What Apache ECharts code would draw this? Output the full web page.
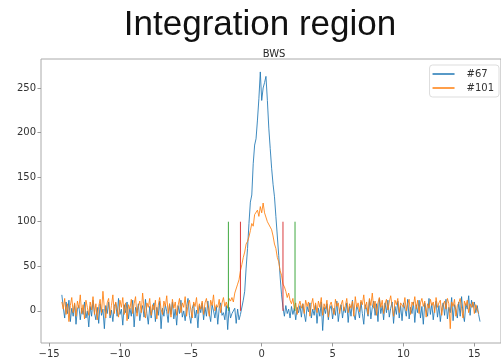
<!DOCTYPE html>
<html>
<head>
<meta charset="utf-8">
<script src="https://cdn.jsdelivr.net/npm/echarts@6/dist/echarts.min.js"></script>
<style>
  html, body { margin: 0; padding: 0; background: #fff; }
  #chart { width: 501px; height: 360px; }
</style>
</head>
<body>
<div id="chart"></div>
<script>
// Sampling grid of both profiles (position in mm)
const xStart = -14.1;
const xStep = 0.1;

// Profile #67, one row per 1 mm starting at -14.1
const bws67 = [
  18, 4, -8, 10, -3, 12, -12, 3, -6, 8,
  -15, 2, 6, -10, 3, -4, 10, -8, 0, -18,
  5, -6, 12, -2, -10, 4, -14, 8, -5, 2,
  -20, 6, -3, 10, -8, 1, -12, 5, 9, -6,
  14, -4, 2, -16, 7, -2, 10, -9, 3, -6,
  12, -18, 4, -2, 8, -11, 0, 6, -7, 13,
  -3, -15, 5, -8, 2, 9, -12, 4, -5, 11,
  -20, 3, -6, 7, -1, -13, 8, -4, 10, -9,
  2, -16, 6, -3, 12, -7, 0, -11, 5, 14,
  -5, -14, 3, 8, -8, 1, -19, 6, -2, 9,
  -10, 4, -6, 11, -3, -12, 7, 0, -8, 5,
  -15, 3, 9, -5, -2, -10, 6, -21, 4, -8,
  -3, -5, 3, -14, 2, -10, -4, -6, 12, 22,
  48, 70, 98, 122, 130, 165, 186, 193, 214, 238,
  268, 236, 250, 256, 263, 236, 205, 182, 160, 142,
  128, 106, 84, 62, 38, 18, 4, -6, 6, -3,
  2, -8, 5, -4, 3, -10, 4, -2, 6, -7,
  8, -3, -12, 5, -1, 9, -8, 2, -5, 7,
  -14, 3, -6, 10, -22, 4, -3, 8, -10, 2,
  6, -9, 3, -5, 11, -12, 1, 7, -8, 4,
  -2, 9, -13, 5, -6, 12, -4, -10, 6, 1,
  -8, 10, -3, -15, 7, 2, -6, 13, -9, 4,
  11, -5, 8, -12, 14, -3, 6, -10, 9, -2,
  12, -7, 3, 10, -14, 5, -4, 11, -8, 6,
  -11, 9, 2, -6, 13, -9, 4, -3, 10, -13,
  7, -2, 12, -8, 5, -15, 9, 1, -6, 14,
  -4, 8, -10, 3, 11, -7, 6, -12, 2, 9,
  -5, 13, -9, 4, -2, 15, -11, 7, 1, -8,
  10, -6, 16, -3, -12, 8, 2, 17, -5, 12,
  4, 10, -2, 6, -4, -12
];

// Profile #101, same grid
const bws101 = [
  10, 2, 14, -4, 8, -12, 6, 15, -2, 9,
  -6, 11, 3, 18, -3, 7, -9, 12, 4, -5,
  10, 1, 16, -4, 8, -10, 5, 13, -2, 22,
  3, -8, 9, 14, -5, 6, 18, -3, 10, 2,
  -7, 12, 4, 15, -4, 9, -11, 7, 2, 13,
  -3, 8, 16, -6, 5, 11, -2, 20, 3, -8,
  9, 4, 14, -5, 7, 1, 12, -9, 6, 15,
  2, -4, 11, 5, 17, -3, 8, -7, 13, 3,
  10, -5, 6, 14, -2, 9, 4, 16, -6, 7,
  12, 1, -8, 10, 5, 15, -3, 8, 2, 11,
  -4, 9, 14, 3, -6, 12, 6, 18, 0, 7,
  4, 13, -2, 9, 15, 5, 10, 3, 14, 11,
  15, 10, 20, 22, 30, 35, 45, 52, 60, 66,
  75, 78, 83, 90, 98, 95, 108, 110, 113, 106,
  117, 110, 121, 110, 112, 100, 98, 94, 91, 84,
  75, 70, 60, 55, 45, 40, 30, 27, 22, 15,
  20, 12, 8, 14, 2, 9, -4, 6, 11, 3,
  8, -3, 12, 5, 10, -6, 7, 14, 1, 9,
  -2, 11, 4, 15, -5, 8, 2, 12, -7, 6,
  10, 3, -4, 13, 5, 9, -3, 7, 12, 0,
  6, 14, -2, 8, 3, 11, -6, 16, 4, 9,
  -1, 12, 7, 18, 2, 10, -4, 14, 6, 20,
  3, 11, -5, 9, 15, 4, 12, -3, 8, 13,
  1, 10, 17, 5, -6, 12, 7, 14, -2, 9,
  11, 4, 15, 0, 8, 13, -4, 10, 6, 16,
  2, 12, -3, 9, 14, 5, 11, -7, 8, 3,
  13, 6, 10, -2, 15, 4, 9, 12, -5, 7,
  11, 2, 14, 8, -20, 10, 5, 13, -6, 6,
  9, 14, 3, -8, 11, 6, 12, -2, 8, 4,
  10, -3, 7, 2, -3
];

// Integration window limits and marker height
const innerLimits = [-1.5, 1.5];
const outerLimits = [-2.35, 2.35];
const markerHeight = [0, 100];

const xTicks = [-15, -10, -5, 0, 5, 10, 15];
const yTicks = [0, 50, 100, 150, 200, 250];

const seriesNames = ['#67', '#101'];
const seriesColors = ['#1f77b4', '#ff7f0e'];

function toPoints(values) {
  return values.map((v, i) => [+(xStart + i * xStep).toFixed(2), v]);
}

function fmtTick(v) {
  return v < 0 ? '\u2212' + Math.abs(v) : String(v);
}

const limitSeries = [];
[[innerLimits, '#d62728'], [outerLimits, '#2ca02c']].forEach(([limits, color]) => {
  limits.forEach(x => {
    limitSeries.push({
      type: 'line',
      data: markerHeight.map(y => [x, y]),
      showSymbol: false,
      silent: true,
      lineStyle: { color: color, width: 1, opacity: 0.9 },
      z: 3
    });
  });
});

const font = 'DejaVu Sans';

const chart = echarts.init(document.getElementById('chart'), null, { renderer: 'canvas' });
chart.setOption({
  animation: false,
  backgroundColor: '#ffffff',
  graphic: [
    {
      type: 'text',
      x: 260, y: 8,
      style: {
        text: 'Integration region',
        font: '35px "Liberation Sans", Arial, sans-serif',
        fill: '#111',
        align: 'center',
        verticalAlign: 'top'
      }
    },
    {
      type: 'text',
      x: 274, y: 49,
      style: {
        text: 'BWS',
        font: '10px "DejaVu Sans"',
        fill: '#262626',
        align: 'center',
        verticalAlign: 'top'
      }
    }
  ],
  grid: {
    left: 41, top: 59, width: 463, height: 284,
    show: true, borderColor: '#aaaaaa', borderWidth: 1,
    backgroundColor: 'transparent'
  },
  legend: {
    data: seriesNames,
    orient: 'vertical',
    right: 2, top: 65,
    icon: 'rect',
    itemWidth: 22, itemHeight: 1.5,
    itemGap: 4,
    padding: [4, 5, 4, 3],
    backgroundColor: 'rgba(255,255,255,0.85)',
    borderColor: '#dddddd', borderWidth: 1, borderRadius: 3,
    textStyle: { fontFamily: font, fontSize: 10, color: '#333', padding: [0, 0, 0, 7] }
  },
  xAxis: {
    type: 'value',
    min: -15.57, max: 16.88,
    axisLine: { show: false, onZero: false },
    splitLine: { show: false },
    axisTick: { show: true, length: 3.5, lineStyle: { color: '#999' }, customValues: xTicks },
    axisLabel: {
      customValues: xTicks, formatter: fmtTick,
      fontFamily: font, fontSize: 10, color: '#333', margin: 6
    }
  },
  yAxis: {
    type: 'value',
    min: -36, max: 282.5,
    axisLine: { show: false, onZero: false },
    splitLine: { show: false },
    axisTick: { show: true, length: 3.5, lineStyle: { color: '#999' }, customValues: yTicks },
    axisLabel: {
      customValues: yTicks, formatter: fmtTick,
      fontFamily: font, fontSize: 10, color: '#333', margin: 5
    }
  },
  series: [
    {
      name: seriesNames[0], type: 'line',
      data: toPoints(bws67),
      showSymbol: false,
      lineStyle: { color: seriesColors[0], width: 1, opacity: 0.85 },
      itemStyle: { color: seriesColors[0] },
      z: 2
    },
    {
      name: seriesNames[1], type: 'line',
      data: toPoints(bws101),
      showSymbol: false,
      lineStyle: { color: seriesColors[1], width: 1, opacity: 0.85 },
      itemStyle: { color: seriesColors[1] },
      z: 2
    }
  ].concat(limitSeries)
});
</script>
</body>
</html>
